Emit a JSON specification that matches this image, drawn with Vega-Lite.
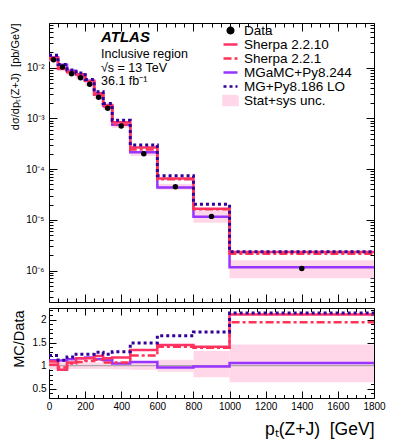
{
  "$schema": "https://vega.github.io/schema/vega-lite/v6.json",
  "padding": {"left": 8, "top": 22, "right": 20, "bottom": 5},
  "background": "white",
  "spacing": 6,
  "bounds": "flush",
  "config": {
    "view": {"stroke": "black", "strokeWidth": 1},
    "font": "Liberation Sans",
    "axis": {"domain": false, "grid": false, "labelFont": "Liberation Sans", "titleFont": "Liberation Sans", "labelColor": "black", "tickColor": "black", "titleColor": "black", "titleFontWeight": "normal", "labelOverlap": false, "labelFlush": false, "labelBound": false, "tickWidth": 1}
  },
  "datasets": {
    "bins": [
      {"lo": 0, "hi": 50, "mid": 25, "data": 0.0144, "blo": 0.013248, "bhi": 0.015552, "rlo": 0.92, "rhi": 1.08},
      {"lo": 50, "hi": 100, "mid": 75, "data": 0.0103, "blo": 0.009579, "bhi": 0.011021, "rlo": 0.93, "rhi": 1.07},
      {"lo": 100, "hi": 150, "mid": 125, "data": 0.0076, "blo": 0.007068, "bhi": 0.008132, "rlo": 0.93, "rhi": 1.07},
      {"lo": 150, "hi": 200, "mid": 175, "data": 0.0063, "blo": 0.005859, "bhi": 0.006741, "rlo": 0.93, "rhi": 1.07},
      {"lo": 200, "hi": 250, "mid": 225, "data": 0.0047, "blo": 0.004371, "bhi": 0.005029, "rlo": 0.93, "rhi": 1.07},
      {"lo": 250, "hi": 300, "mid": 275, "data": 0.0026, "blo": 0.002418, "bhi": 0.002782, "rlo": 0.93, "rhi": 1.07},
      {"lo": 300, "hi": 350, "mid": 325, "data": 0.00158, "blo": 0.001469, "bhi": 0.001691, "rlo": 0.93, "rhi": 1.07},
      {"lo": 350, "hi": 450, "mid": 400, "data": 0.00071, "blo": 0.000653, "bhi": 0.000767, "rlo": 0.92, "rhi": 1.08},
      {"lo": 450, "hi": 600, "mid": 525, "data": 0.0002, "blo": 0.000182, "bhi": 0.000218, "rlo": 0.91, "rhi": 1.09},
      {"lo": 600, "hi": 800, "mid": 700, "data": 4.5e-5, "blo": 3.915e-5, "bhi": 5.085e-5, "rlo": 0.87, "rhi": 1.13},
      {"lo": 800, "hi": 1000, "mid": 900, "data": 1.17e-5, "blo": 8.775e-6, "bhi": 1.544e-5, "rlo": 0.75, "rhi": 1.32},
      {"lo": 1000, "hi": 1800, "mid": 1400, "data": 1.1e-6, "blo": 7.04e-7, "bhi": 1.606e-6, "rlo": 0.64, "rhi": 1.46}
    ],
    "curves": [
      {"series": "Sherpa 2.2.10", "x": 0, "y": 0.0157, "ratio": 1.09},
      {"series": "Sherpa 2.2.10", "x": 50, "y": 0.009373, "ratio": 0.91},
      {"series": "Sherpa 2.2.10", "x": 100, "y": 0.008132, "ratio": 1.07},
      {"series": "Sherpa 2.2.10", "x": 150, "y": 0.007308, "ratio": 1.16},
      {"series": "Sherpa 2.2.10", "x": 200, "y": 0.005452, "ratio": 1.16},
      {"series": "Sherpa 2.2.10", "x": 250, "y": 0.003146, "ratio": 1.21},
      {"series": "Sherpa 2.2.10", "x": 300, "y": 0.001833, "ratio": 1.16},
      {"series": "Sherpa 2.2.10", "x": 350, "y": 0.000838, "ratio": 1.18},
      {"series": "Sherpa 2.2.10", "x": 450, "y": 0.000268, "ratio": 1.34},
      {"series": "Sherpa 2.2.10", "x": 600, "y": 6.525e-5, "ratio": 1.45},
      {"series": "Sherpa 2.2.10", "x": 800, "y": 1.65e-5, "ratio": 1.41},
      {"series": "Sherpa 2.2.10", "x": 1000, "y": 2.321e-6, "ratio": 2.11},
      {"series": "Sherpa 2.2.10", "x": 1800, "y": 2.321e-6, "ratio": 2.11},
      {"series": "Sherpa 2.2.1", "x": 0, "y": 0.01469, "ratio": 1.02},
      {"series": "Sherpa 2.2.1", "x": 50, "y": 0.009888, "ratio": 0.96},
      {"series": "Sherpa 2.2.1", "x": 100, "y": 0.00798, "ratio": 1.05},
      {"series": "Sherpa 2.2.1", "x": 150, "y": 0.006804, "ratio": 1.08},
      {"series": "Sherpa 2.2.1", "x": 200, "y": 0.00517, "ratio": 1.1},
      {"series": "Sherpa 2.2.1", "x": 250, "y": 0.002938, "ratio": 1.13},
      {"series": "Sherpa 2.2.1", "x": 300, "y": 0.001691, "ratio": 1.07},
      {"series": "Sherpa 2.2.1", "x": 350, "y": 0.00076, "ratio": 1.07},
      {"series": "Sherpa 2.2.1", "x": 450, "y": 0.000244, "ratio": 1.22},
      {"series": "Sherpa 2.2.1", "x": 600, "y": 6.345e-5, "ratio": 1.41},
      {"series": "Sherpa 2.2.1", "x": 800, "y": 1.626e-5, "ratio": 1.39},
      {"series": "Sherpa 2.2.1", "x": 1000, "y": 2.134e-6, "ratio": 1.94},
      {"series": "Sherpa 2.2.1", "x": 1800, "y": 2.134e-6, "ratio": 1.94},
      {"series": "MGaMC+Py8.244", "x": 0, "y": 0.016128, "ratio": 1.12},
      {"series": "MGaMC+Py8.244", "x": 50, "y": 0.011433, "ratio": 1.11},
      {"series": "MGaMC+Py8.244", "x": 100, "y": 0.008664, "ratio": 1.14},
      {"series": "MGaMC+Py8.244", "x": 150, "y": 0.007308, "ratio": 1.16},
      {"series": "MGaMC+Py8.244", "x": 200, "y": 0.005546, "ratio": 1.18},
      {"series": "MGaMC+Py8.244", "x": 250, "y": 0.002964, "ratio": 1.14},
      {"series": "MGaMC+Py8.244", "x": 300, "y": 0.00177, "ratio": 1.12},
      {"series": "MGaMC+Py8.244", "x": 350, "y": 0.000746, "ratio": 1.05},
      {"series": "MGaMC+Py8.244", "x": 450, "y": 0.000216, "ratio": 1.08},
      {"series": "MGaMC+Py8.244", "x": 600, "y": 4.32e-5, "ratio": 0.96},
      {"series": "MGaMC+Py8.244", "x": 800, "y": 1.147e-5, "ratio": 0.98},
      {"series": "MGaMC+Py8.244", "x": 1000, "y": 1.166e-6, "ratio": 1.06},
      {"series": "MGaMC+Py8.244", "x": 1800, "y": 1.166e-6, "ratio": 1.06},
      {"series": "MG+Py8.186 LO", "x": 0, "y": 0.017568, "ratio": 1.22},
      {"series": "MG+Py8.186 LO", "x": 50, "y": 0.011536, "ratio": 1.12},
      {"series": "MG+Py8.186 LO", "x": 100, "y": 0.009044, "ratio": 1.19},
      {"series": "MG+Py8.186 LO", "x": 150, "y": 0.007875, "ratio": 1.25},
      {"series": "MG+Py8.186 LO", "x": 200, "y": 0.005875, "ratio": 1.25},
      {"series": "MG+Py8.186 LO", "x": 250, "y": 0.003354, "ratio": 1.29},
      {"series": "MG+Py8.186 LO", "x": 300, "y": 0.001975, "ratio": 1.25},
      {"series": "MG+Py8.186 LO", "x": 350, "y": 0.000923, "ratio": 1.3},
      {"series": "MG+Py8.186 LO", "x": 450, "y": 0.000298, "ratio": 1.49},
      {"series": "MG+Py8.186 LO", "x": 600, "y": 7.425e-5, "ratio": 1.65},
      {"series": "MG+Py8.186 LO", "x": 800, "y": 2.024e-5, "ratio": 1.73},
      {"series": "MG+Py8.186 LO", "x": 1000, "y": 2.354e-6, "ratio": 2.14},
      {"series": "MG+Py8.186 LO", "x": 1800, "y": 2.354e-6, "ratio": 2.14}
    ]
  },
  "vconcat": [
    {
      "width": 325,
      "height": 279,
      "title": {"text": "ATLAS", "subtitle": ["Inclusive region", "√s = 13 TeV", "36.1 fb⁻¹"], "anchor": "start", "frame": "group", "orient": "top", "offset": 0, "dx": 52, "dy": 65, "font": "Liberation Sans", "fontSize": 15, "fontStyle": "italic", "fontWeight": "bold", "color": "black", "subtitleFont": "Liberation Sans", "subtitleFontSize": 12.5, "subtitleColor": "black", "subtitlePadding": 3, "subtitleLineHeight": 13.5},
      "resolve": {"axis": {"x": "independent", "y": "independent"}},
      "layer": [
        {
          "data": {"name": "bins"},
          "mark": {"type": "rect"},
          "encoding": {
            "x": {"field": "lo", "type": "quantitative", "scale": {"domain": [0, 1800], "nice": false, "zero": false},
                  "axis": {"orient": "bottom", "values": [0,50,100,150,200,250,300,350,400,450,500,550,600,650,700,750,800,850,900,950,1000,1050,1100,1150,1200,1250,1300,1350,1400,1450,1500,1550,1600,1650,1700,1750,1800], "labels": false, "title": null, "tickSize": {"condition": {"test": "datum.value % 200 === 0", "value": -8}, "value": -4}}},
            "x2": {"field": "hi"},
            "y": {"field": "blo", "type": "quantitative", "scale": {"type": "log", "domain": [2.4e-7, 0.076], "nice": false},
                  "axis": {"orient": "left", "values": [1e-6, 1e-5, 1e-4, 1e-3, 1e-2],
                           "labelExpr": "'10⁻' + ['⁰','¹','²','³','⁴','⁵','⁶','⁷','⁸','⁹'][-round(log(datum.value)/LN10)]",
                           "labelFontSize": 10, "labelPadding": 5, "ticks": false,
                           "title": "dσ/dpₜ(Z+J)\u00a0 [pb/GeV]", "titleFontSize": 11, "titleAngle": -90, "titleAlign": "right", "titleBaseline": "middle", "titleX": -34, "titleY": 0}},
            "y2": {"field": "bhi"},
            "color": {"datum": "Stat+sys unc.", "type": "nominal",
                      "scale": {"domain": ["Data", "Sherpa 2.2.10", "Sherpa 2.2.1", "MGaMC+Py8.244", "MG+Py8.186 LO", "Stat+sys unc."], "range": ["black", "#ff3366", "#ff3355", "#9933ff", "#330099", "#ffd7e9"]},
                      "legend": {"orient": "none", "legendX": 173, "legendY": 1, "title": null, "padding": 0, "labelFontSize": 13.5, "labelFont": "Liberation Sans", "labelColor": "black", "clipHeight": 13, "rowPadding": 0, "labelOffset": 5, "symbolStrokeWidth": 2.5,
                                 "encode": {"symbols": {"update": {
                                   "shape": {"signal": "datum.value === 'Data' ? 'circle' : datum.value === 'Stat+sys unc.' ? 'M-1,-0.65H1V0.65H-1Z' : 'stroke'"},
                                   "size": {"signal": "datum.value === 'Data' ? 30 : 196"},
                                   "fill": {"signal": "datum.value === 'Data' ? 'black' : datum.value === 'Stat+sys unc.' ? '#ffd7e9' : 'transparent'"},
                                   "stroke": {"signal": "datum.value === 'Sherpa 2.2.10' ? '#ff3366' : datum.value === 'Sherpa 2.2.1' ? '#ff3355' : datum.value === 'MGaMC+Py8.244' ? '#9933ff' : datum.value === 'MG+Py8.186 LO' ? '#330099' : 'transparent'"},
                                   "strokeWidth": {"value": 2.5},
                                   "strokeDash": {"signal": "datum.value === 'Sherpa 2.2.1' ? [8,3,3,3] : datum.value === 'MG+Py8.186 LO' ? [3,3] : [1,0]"},
                                   "opacity": {"value": 1}
                                 }}}}}
          }
        },
        {
          "data": {"name": "curves"},
          "transform": [{"filter": "datum.series === 'MGaMC+Py8.244'"}],
          "mark": {"type": "line", "interpolate": "step-after", "strokeWidth": 2.5},
          "encoding": {
            "x": {"field": "x", "type": "quantitative", "axis": null},
            "y": {"field": "y", "type": "quantitative",
                  "axis": {"orient": "left", "values": [3e-7,4e-7,5e-7,6e-7,7e-7,8e-7,9e-7,1e-6,2e-6,3e-6,4e-6,5e-6,6e-6,7e-6,8e-6,9e-6,1e-5,2e-5,3e-5,4e-5,5e-5,6e-5,7e-5,8e-5,9e-5,1e-4,2e-4,3e-4,4e-4,5e-4,6e-4,7e-4,8e-4,9e-4,1e-3,2e-3,3e-3,4e-3,5e-3,6e-3,7e-3,8e-3,9e-3,1e-2,2e-2,3e-2,4e-2,5e-2,6e-2,7e-2], "labels": false, "title": null,
                           "tickSize": {"condition": {"test": "abs(log(datum.value)/LN10 - round(log(datum.value)/LN10)) < 0.001", "value": -8}, "value": -4}}},
            "color": {"field": "series", "type": "nominal", "legend": null}
          }
        },
        {
          "data": {"name": "curves"},
          "transform": [{"filter": "datum.series === 'Sherpa 2.2.10'"}],
          "mark": {"type": "line", "interpolate": "step-after", "strokeWidth": 2.5},
          "encoding": {
            "x": {"field": "x", "type": "quantitative", "axis": null},
            "y": {"field": "y", "type": "quantitative", "axis": null},
            "color": {"field": "series", "type": "nominal", "legend": null}
          }
        },
        {
          "data": {"name": "curves"},
          "transform": [{"filter": "datum.series === 'Sherpa 2.2.1'"}],
          "mark": {"type": "line", "interpolate": "step-after", "strokeWidth": 2.5, "strokeDash": [8, 3, 3, 3]},
          "encoding": {
            "x": {"field": "x", "type": "quantitative", "axis": null},
            "y": {"field": "y", "type": "quantitative", "axis": null},
            "color": {"field": "series", "type": "nominal", "legend": null}
          }
        },
        {
          "data": {"name": "curves"},
          "transform": [{"filter": "datum.series === 'MG+Py8.186 LO'"}],
          "mark": {"type": "line", "interpolate": "step-after", "strokeWidth": 3, "strokeDash": [3, 3]},
          "encoding": {
            "x": {"field": "x", "type": "quantitative", "axis": null},
            "y": {"field": "y", "type": "quantitative", "axis": null},
            "color": {"field": "series", "type": "nominal", "legend": null}
          }
        },
        {
          "data": {"name": "bins"},
          "mark": {"type": "point", "filled": true, "shape": "circle", "size": 30, "opacity": 1},
          "encoding": {
            "x": {"field": "mid", "type": "quantitative", "axis": null},
            "y": {"field": "data", "type": "quantitative", "axis": null},
            "color": {"datum": "Data", "type": "nominal", "legend": null}
          }
        },
        {
          "data": {"name": "bins"},
          "mark": {"type": "point", "opacity": 0},
          "encoding": {
            "x": {"field": "mid", "type": "quantitative",
                  "axis": {"orient": "top", "values": [0,50,100,150,200,250,300,350,400,450,500,550,600,650,700,750,800,850,900,950,1000,1050,1100,1150,1200,1250,1300,1350,1400,1450,1500,1550,1600,1650,1700,1750,1800], "labels": false, "title": null, "tickSize": {"condition": {"test": "datum.value % 200 === 0", "value": -8}, "value": -4}}},
            "y": {"field": "data", "type": "quantitative",
                  "axis": {"orient": "right", "values": [3e-7,4e-7,5e-7,6e-7,7e-7,8e-7,9e-7,1e-6,2e-6,3e-6,4e-6,5e-6,6e-6,7e-6,8e-6,9e-6,1e-5,2e-5,3e-5,4e-5,5e-5,6e-5,7e-5,8e-5,9e-5,1e-4,2e-4,3e-4,4e-4,5e-4,6e-4,7e-4,8e-4,9e-4,1e-3,2e-3,3e-3,4e-3,5e-3,6e-3,7e-3,8e-3,9e-3,1e-2,2e-2,3e-2,4e-2,5e-2,6e-2,7e-2], "labels": false, "title": null,
                           "tickSize": {"condition": {"test": "abs(log(datum.value)/LN10 - round(log(datum.value)/LN10)) < 0.001", "value": -8}, "value": -4}}}
          }
        }
      ]
    },
    {
      "width": 325,
      "height": 90,
      "resolve": {"axis": {"x": "independent", "y": "independent"}},
      "layer": [
        {
          "data": {"name": "bins"},
          "mark": {"type": "rect", "color": "#ffd7e9"},
          "encoding": {
            "x": {"field": "lo", "type": "quantitative", "scale": {"domain": [0, 1800], "nice": false, "zero": false},
                  "axis": {"orient": "bottom", "values": [0,200,400,600,800,1000,1200,1400,1600,1800],
                           "format": "d", "labelFontSize": 10, "labelPadding": 3, "ticks": false,
                           "title": "pₜ(Z+J)\u00a0 [GeV]", "titleFontSize": 17.5, "titleAlign": "right", "titleAnchor": "end", "titleBaseline": "alphabetic", "titleX": 325, "titleY": 36}},
            "x2": {"field": "hi"},
            "y": {"field": "rlo", "type": "quantitative", "scale": {"domain": [0.3, 2.25], "nice": false, "zero": false},
                  "axis": {"orient": "left", "values": [0.5, 1, 1.5, 2],
                           "labelExpr": "format(datum.value, '')", "labelFontSize": 10, "labelPadding": 3, "ticks": false,
                           "title": "MC/Data", "titleFontSize": 14.5, "titleAngle": -90, "titleAlign": "right", "titleBaseline": "middle", "titleX": -30, "titleY": 2}},
            "y2": {"field": "rhi"}
          }
        },
        {
          "data": {"values": [{}]},
          "mark": {"type": "rule", "color": "#999999", "strokeWidth": 1},
          "encoding": {"y": {"datum": 1, "type": "quantitative", "axis": null}}
        },
        {
          "data": {"name": "curves"},
          "transform": [{"filter": "datum.series === 'MGaMC+Py8.244'"}],
          "mark": {"type": "line", "interpolate": "step-after", "strokeWidth": 2.5, "color": "#9933ff"},
          "encoding": {
            "x": {"field": "x", "type": "quantitative",
                  "axis": {"orient": "bottom", "values": [0,50,100,150,200,250,300,350,400,450,500,550,600,650,700,750,800,850,900,950,1000,1050,1100,1150,1200,1250,1300,1350,1400,1450,1500,1550,1600,1650,1700,1750,1800], "labels": false, "title": null, "tickSize": {"condition": {"test": "datum.value % 200 === 0", "value": -7}, "value": -3.5}}},
            "y": {"field": "ratio", "type": "quantitative",
                  "axis": {"orient": "left", "values": [0.4,0.5,0.6,0.7,0.8,0.9,1,1.1,1.2,1.3,1.4,1.5,1.6,1.7,1.8,1.9,2,2.1,2.2], "labels": false, "title": null,
                           "tickSize": {"condition": {"test": "abs(datum.value*2 - round(datum.value*2)) < 0.001", "value": -7}, "value": -3.5}}}
          }
        },
        {
          "data": {"name": "curves"},
          "transform": [{"filter": "datum.series === 'Sherpa 2.2.10'"}],
          "mark": {"type": "line", "interpolate": "step-after", "strokeWidth": 2.5, "color": "#ff3366"},
          "encoding": {
            "x": {"field": "x", "type": "quantitative", "axis": null},
            "y": {"field": "ratio", "type": "quantitative", "axis": null}
          }
        },
        {
          "data": {"name": "curves"},
          "transform": [{"filter": "datum.series === 'Sherpa 2.2.1'"}],
          "mark": {"type": "line", "interpolate": "step-after", "strokeWidth": 2.5, "color": "#ff3355", "strokeDash": [8, 3, 3, 3]},
          "encoding": {
            "x": {"field": "x", "type": "quantitative", "axis": null},
            "y": {"field": "ratio", "type": "quantitative", "axis": null}
          }
        },
        {
          "data": {"name": "curves"},
          "transform": [{"filter": "datum.series === 'MG+Py8.186 LO'"}],
          "mark": {"type": "line", "interpolate": "step-after", "strokeWidth": 3, "color": "#330099", "strokeDash": [3, 3]},
          "encoding": {
            "x": {"field": "x", "type": "quantitative", "axis": null},
            "y": {"field": "ratio", "type": "quantitative", "axis": null}
          }
        },
        {
          "data": {"name": "bins"},
          "mark": {"type": "point", "opacity": 0},
          "encoding": {
            "x": {"field": "mid", "type": "quantitative",
                  "axis": {"orient": "top", "values": [0,50,100,150,200,250,300,350,400,450,500,550,600,650,700,750,800,850,900,950,1000,1050,1100,1150,1200,1250,1300,1350,1400,1450,1500,1550,1600,1650,1700,1750,1800], "labels": false, "title": null, "tickSize": {"condition": {"test": "datum.value % 200 === 0", "value": -7}, "value": -3.5}}},
            "y": {"field": "rhi", "type": "quantitative",
                  "axis": {"orient": "right", "values": [0.4,0.5,0.6,0.7,0.8,0.9,1,1.1,1.2,1.3,1.4,1.5,1.6,1.7,1.8,1.9,2,2.1,2.2], "labels": false, "title": null,
                           "tickSize": {"condition": {"test": "abs(datum.value*2 - round(datum.value*2)) < 0.001", "value": -7}, "value": -3.5}}}
          }
        }
      ]
    }
  ]
}
